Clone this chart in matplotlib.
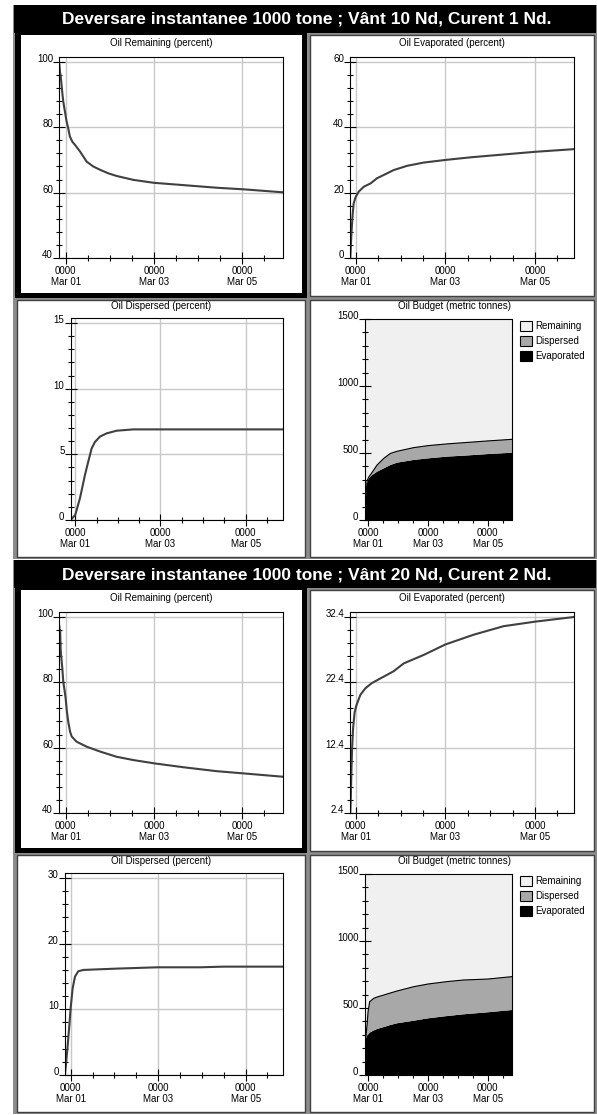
import matplotlib
matplotlib.use('Agg')
import matplotlib.pyplot as plt
import numpy as np
from matplotlib.patches import Rectangle, Patch
from matplotlib.ticker import FixedLocator

plt.rcParams['font.family'] = ['Liberation Sans', 'DejaVu Sans']

W, H = 597, 1115

titles = ['Deversare instantanee 1000 tone ; V\u00e2nt 10 Nd, Curent 1 Nd.',
          'Deversare instantanee 1000 tone ; V\u00e2nt 20 Nd, Curent 2 Nd.']
xtick_labels = ['0000\nMar 01', '0000\nMar 03', '0000\nMar 05']

# --- scenario 1 (wind 10 kn) --- time in hours from Mar 01 0000
rem1_h = [-3.4, -3.1, -2.5, -1.8, -1.3, -0.4, 0.5, 1.4, 2.3, 3.6, 5.1, 7.8, 11.4, 15.0, 18.7, 23.2, 27.7, 36.8, 48, 64, 82, 97, 118]
rem1_v = [99.2, 97.1, 94.6, 90.5, 87.9, 84.9, 81.8, 79.7, 77.2, 75.6, 74.6, 72.6, 69.5, 68.0, 67.0, 65.9, 65.1, 63.9, 63.0, 62.3, 61.5, 61.0, 60.1]

evap1_h = [-2.9, -2.3, -1.6, -1.1, 0, 1.6, 4.3, 7.9, 11.4, 15, 20.3, 27.5, 36.4, 48, 61.4, 75.6, 96.2, 116.7]
evap1_v = [0, 7.5, 13.6, 16.7, 18.7, 20.3, 21.8, 22.8, 24.4, 25.4, 26.9, 28.2, 29.2, 30.0, 30.8, 31.5, 32.5, 33.3]

disp1_h = [-2.6, 0, 2.6, 5.4, 7.3, 9.2, 11.1, 13.9, 17.7, 23.3, 32.7, 48, 117.5]
disp1_v = [0, 0.4, 1.65, 3.4, 4.45, 5.45, 5.95, 6.35, 6.6, 6.8, 6.9, 6.9, 6.9]

bud1_h = [-2.7, -2.1, -1.6, -0.8, 0.5, 3.2, 7.2, 12.6, 17.9, 23.3, 36.6, 48.1, 63.4, 76.7, 96, 115.5]
bud1_evap = [0, 100, 180, 275, 310, 335, 360, 385, 410, 428, 448, 460, 473, 480, 492, 502]
bud1_disp = [0, 5, 10, 15, 10, 20, 50, 75, 87, 85, 92, 95, 95, 97, 98, 100]

# --- scenario 2 (wind 20 kn) ---
rem2_h = [-3.4, -3.2, -3.0, -2.7, -2.5, -1.8, -1.3, -0.5, 0, 0.7, 1.4, 2.4, 3.3, 6, 11.4, 18.7, 27.7, 36.8, 48, 64, 82, 97, 118]
rem2_v = [97.1, 94.0, 96.0, 90.0, 88.4, 84.3, 80.2, 77.2, 75.1, 71.0, 68.0, 64.9, 63.4, 61.8, 60.3, 58.8, 57.2, 56.2, 55.2, 54.0, 52.8, 52.1, 51.1]

evap2_h = [-2.9, -2.6, -2.3, -1.9, -1.4, -0.6, 0.4, 2.5, 5.2, 8.7, 13.2, 20.3, 25.7, 36.4, 48, 63.2, 79.2, 96.2, 116.7]
evap2_v = [2.4, 5.0, 9.0, 12.5, 15.4, 17.8, 18.9, 20.5, 21.5, 22.3, 23.0, 24.1, 25.3, 26.6, 28.2, 29.7, 31.0, 31.7, 32.4]

disp2_h = [-3.1, -2.6, -1.6, -0.7, 0, 1.1, 2.4, 4.2, 7, 16.1, 25.2, 47.6, 71, 83.8, 116.7]
disp2_v = [0.1, 1.5, 4.6, 7.6, 10.2, 13.2, 15.0, 15.8, 16.0, 16.1, 16.2, 16.4, 16.4, 16.5, 16.5]

bud2_h = [-2.7, -2.4, -2.1, -1.6, -0.8, 0, 1.3, 4.5, 7.2, 12.6, 17.9, 23.3, 36.6, 48.1, 63.4, 76.7, 96, 115.5]
bud2_evap = [0, 174, 210, 274, 290, 302, 316, 332, 343, 358, 373, 386, 405, 423, 440, 453, 468, 485]
bud2_disp = [0, 6, 20, 26, 83, 171, 231, 240, 239, 239, 239, 241, 254, 256, 257, 256, 248, 249]

LINE = '#404040'
GRID = '#c8c8c8'
REM_C = '#f0f0f0'
DISP_C = '#a8a8a8'


def px_axes(fig, x0, y0, x1, y1):
    return fig.add_axes([x0 / W, 1 - y1 / H, (x1 - x0) / W, (y1 - y0) / H])


def style_axes(ax, xlim, ylim, yticks, yminor):
    ax.set_xlim(xlim)
    ax.set_ylim(ylim)
    ax.set_xticks([0, 48, 96])
    ax.set_xticklabels(xtick_labels)
    ax.xaxis.set_minor_locator(FixedLocator(np.arange(-12, 121, 12)))
    ax.set_yticks(yticks)
    ax.set_yticklabels([('%g' % t) for t in yticks])
    ax.yaxis.set_minor_locator(FixedLocator(yminor))
    ax.tick_params(which='major', direction='inout', length=9, width=0.8, labelsize=7, pad=1)
    ax.tick_params(which='minor', direction='inout', length=4, width=0.8)
    ax.tick_params(axis='y', which='major', pad=0)
    for lbl in ax.get_yticklabels():
        lbl.set_verticalalignment('baseline')
    ax.grid(True, which='major', color=GRID, lw=1)
    ax.set_axisbelow(True)
    for s in ax.spines.values():
        s.set_linewidth(0.8)


fig = plt.figure(figsize=(W / 100, H / 100), dpi=100)
bg = fig.add_axes([0, 0, 1, 1])
bg.set_xlim(0, W)
bg.set_ylim(H, 0)
bg.axis('off')

scen = [
    (rem1_h, rem1_v, evap1_h, evap1_v, disp1_h, disp1_v, bud1_h, bud1_evap, bud1_disp),
    (rem2_h, rem2_v, evap2_h, evap2_v, disp2_h, disp2_v, bud2_h, bud2_evap, bud2_disp),
]

for k, data in enumerate(scen):
    oy = 555 * k
    rh, rv, eh, ev, dh, dv, bh, be, bd = data

    # frames
    bg.add_patch(Rectangle((13, 5 + oy), 584, 554, facecolor='#8c8c8c', edgecolor='none'))
    bg.add_patch(Rectangle((14, 5 + oy), 582, 28, facecolor='black', edgecolor='none'))
    bg.text(307, 19.5 + oy, titles[k], color='white', fontsize=12.5, fontweight='bold',
            ha='center', va='center')
    for (x0, y0, x1, y1) in [(309, 34, 595, 297), (16, 299, 306, 558), (309, 299, 595, 558)]:
        bg.add_patch(Rectangle((x0 + 1, y0 + oy + 1), x1 - x0 - 2, y1 - y0 - 2,
                               facecolor='white', edgecolor='#404040', lw=1))
    # selected panel: thick black border merging with the title bar
    bg.add_patch(Rectangle((15, 31 + oy), 292, 267, facecolor='black', edgecolor='none'))
    bg.add_patch(Rectangle((21, 35 + oy), 281, 258, facecolor='white', edgecolor='none'))

    bg.text(161, 43 + oy, 'Oil Remaining (percent)', fontsize=7, ha='center', va='center')
    bg.text(452, 43 + oy, 'Oil Evaporated (percent)', fontsize=7, ha='center', va='center')
    bg.text(161, 306 + oy, 'Oil Dispersed (percent)', fontsize=7, ha='center', va='center')
    bg.text(454, 306 + oy, 'Oil Budget (metric tonnes)', fontsize=7, ha='center', va='center')

    # oil remaining
    ax = px_axes(fig, 59.3, 57 + oy, 282.7, 258 + oy)
    style_axes(ax, (-3.44, 117.9), (40, 101.5), [40, 60, 80, 100], np.arange(40, 101, 4))
    ax.plot(rh, rv, color=LINE, lw=1.5)

    # oil evaporated
    ax = px_axes(fig, 350.3, 57 + oy, 573.7, 258 + oy)
    if k == 0:
        style_axes(ax, (-2.9, 116.7), (0, 61.5), [0, 20, 40, 60], np.arange(0, 61, 4))
    else:
        style_axes(ax, (-2.9, 116.7), (2.4, 33.17), [2.4, 12.4, 22.4, 32.4], np.arange(2.4, 33, 2))
    ax.plot(eh, ev, color=LINE, lw=1.5)

    # oil dispersed
    if k == 0:
        ax = px_axes(fig, 70.7, 318.3 + oy, 282.7, 520 + oy)
        style_axes(ax, (-2.6, 116.9), (0, 15.36), [0, 5, 10, 15], np.arange(0, 15.1, 1))
    else:
        ax = px_axes(fig, 65, 318 + oy, 283.3, 520 + oy)
        style_axes(ax, (-3.1, 116.7), (0, 30.76), [0, 10, 20, 30], np.arange(0, 30.1, 2))
    ax.plot(dh, dv, color=LINE, lw=1.5)

    # oil budget
    ax = px_axes(fig, 364.7, 319 + oy, 512, 520 + oy)
    style_axes(ax, (-2.7, 115.5), (0, 1500), [0, 500, 1000, 1500], np.arange(0, 1501, 100))
    ax.grid(False)
    ax.set_facecolor(REM_C)
    ax.stackplot(bh, be, bd, colors=['black', DISP_C], lw=0)
    ax.plot(bh, np.array(be) + np.array(bd), color='black', lw=0.8)
    handles = [Patch(facecolor=REM_C, edgecolor='black', lw=0.8),
               Patch(facecolor=DISP_C, edgecolor='black', lw=0.8),
               Patch(facecolor='black', edgecolor='black', lw=0.8)]
    ax.legend(handles, ['Remaining', 'Dispersed', 'Evaporated'], loc='upper left',
              bbox_to_anchor=(1.04, 1.0), frameon=False, fontsize=7, handlelength=1.2,
              handleheight=1.2, handletextpad=0.4, labelspacing=0.5, borderaxespad=0,
              borderpad=0.2)

fig.savefig('out.png', dpi=100)
